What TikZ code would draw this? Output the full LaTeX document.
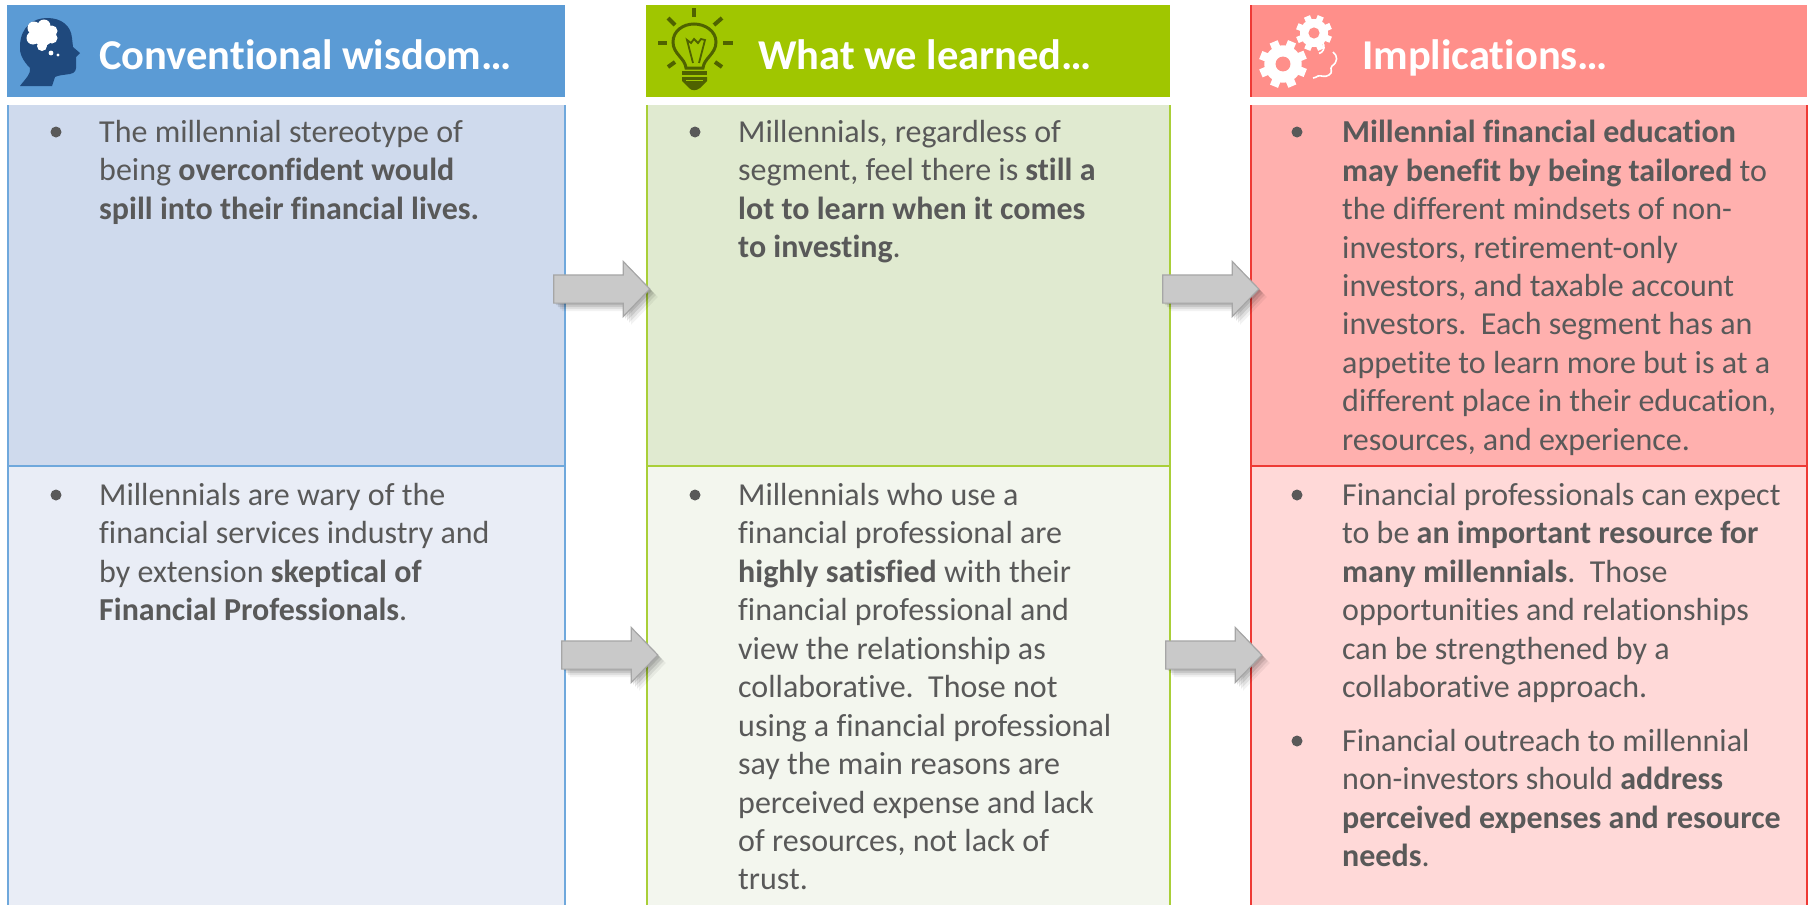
\documentclass[tikz,border=0pt]{standalone}
\usepackage{fontspec}
\setmainfont[Ligatures=NoCommon]{Carlito}
\usetikzlibrary{shapes.arrows,shadows}
\definecolor{bluehead}{HTML}{5B9BD5}
\definecolor{blueone}{HTML}{CFDAED}
\definecolor{bluetwo}{HTML}{E9EDF6}
\definecolor{blueline}{HTML}{6FA8DC}
\definecolor{greenhead}{HTML}{A0C600}
\definecolor{greenone}{HTML}{E0EAD0}
\definecolor{greentwo}{HTML}{F3F6EE}
\definecolor{greenline}{HTML}{A9CF38}
\definecolor{redhead}{HTML}{FF8F8A}
\definecolor{redone}{HTML}{FFB0AE}
\definecolor{redtwo}{HTML}{FFD9D8}
\definecolor{redline}{HTML}{EE3A35}
\definecolor{bodytext}{HTML}{595959}
\definecolor{headicon}{HTML}{1F497D}
\definecolor{bulbicon}{HTML}{4F6200}
\tikzset{
  headtext/.style={anchor=base west,inner sep=0pt,text=white,font=\fontsize{42.5}{50}\selectfont\bfseries},
  bodynote/.style={anchor=north west,inner sep=0pt,align=left,text=bodytext,font=\fontsize{32}{38.45}\selectfont},
  bulletdot/.style={circle,fill=bodytext,inner sep=0pt,minimum size=11pt},
  panelline/.style={line width=1.3pt},
  flowarrow/.style={single arrow,draw=black!35,fill=black!21,line width=1.2pt,anchor=center,
    minimum height=96pt,minimum width=54pt,text height=27pt,text depth=0pt,inner sep=0pt,
    single arrow tip angle=92,single arrow head extend=13.5pt,
    general shadow={shadow xshift=2pt,shadow yshift=-2pt,fill=black,opacity=.1},
    general shadow={shadow xshift=4pt,shadow yshift=-4pt,fill=black,opacity=.1},
    general shadow={shadow xshift=6pt,shadow yshift=-6pt,fill=black,opacity=.08},
    general shadow={shadow xshift=8pt,shadow yshift=-8pt,fill=black,opacity=.05}},
}
\newcommand{\gearicon}[4]{%
  \fill[white] (#1,#2) circle (#3*0.78);
  \foreach \ang in {0,45,...,315}
    \draw[white,line width=#3*0.36pt] (#1,#2) ++(\ang+22:#3*0.7) -- ++(\ang+22:#3*0.3);
  \fill[#4] (#1,#2) circle (#3*0.31);
}
\begin{document}
\begin{tikzpicture}[x=1pt,y=-1pt]
  \useasboundingbox (0,0) rectangle (1814,905);
  % column one
  \fill[bluehead] (7,5) rectangle (565,97);
  \fill[blueone] (8,105) rectangle (565,466);
  \fill[bluetwo] (8,466) rectangle (565,905);
  \draw[panelline,blueline] (8,105) -- (8,905) (565,105) -- (565,905) (8,466) -- (565,466);
  % column two
  \fill[greenhead] (646,5) rectangle (1170,97);
  \fill[greenone] (647,105) rectangle (1170,466);
  \fill[greentwo] (647,466) rectangle (1170,905);
  \draw[panelline,greenline] (647,105) -- (647,905) (1170,105) -- (1170,905) (647,466) -- (1170,466);
  % column three
  \fill[redhead] (1250,5) rectangle (1807,97);
  \fill[redone] (1251,105) rectangle (1807,466);
  \fill[redtwo] (1251,466) rectangle (1807,905);
  \draw[panelline,redline] (1251,5) -- (1251,97) (1251,105) -- (1251,905) (1807,105) -- (1807,905) (1251,466) -- (1807,466);

  % head
  \fill[headicon] (20,86) .. controls (26,78) and (31,74) .. (30,68)
    .. controls (22,60) and (19,52) .. (20,45) .. controls (21,26) and (34,18) .. (47,18)
    .. controls (62,18) and (71,26) .. (72,38) -- (73,47) -- (80,53) -- (76,57) -- (76,63)
    .. controls (77,70) and (75,73) .. (70,74) .. controls (64,75) and (59,75) .. (55,77) -- (52,86) -- cycle;
  \fill[white] (34,28) circle (6.5) (44,26) circle (6.5) (52,31) circle (5.5) (33,38) circle (6.5)
    (43,36) circle (10) (52,38) circle (5.5) (42,46) circle (5);
  \fill[white] (51,53) circle (2.4) (58,55) circle (1.6);

  % bulb
  \begin{scope}[bulbicon,line width=3pt]
    \draw (686,68) .. controls (685,58) and (673,54) .. (673,42)
      .. controls (673,31) and (683,24) .. (694,24)
      .. controls (705,24) and (716,31) .. (716,42)
      .. controls (716,54) and (704,58) .. (703,68) -- cycle;
    \draw[line width=1.8pt] (693,63) -- (687,40) -- (691,43) -- (694,39) -- (698,43) -- (701,39) -- (705,40) -- (699,63);
    \draw[line width=4pt] (694,8) -- (694,17);
    \draw[line width=4pt] (658,43) -- (667,43);
    \draw[line width=4pt] (723,43) -- (733,43);
    \draw[line width=4pt] (668,18) -- (675,25);
    \draw[line width=4pt] (722,18) -- (714,25);
    \draw[line width=4pt] (668,67) -- (675,62);
    \draw[line width=4pt] (722,67) -- (715,62);
    \draw[line width=4pt] (682,73) -- (707,73);
    \fill (682,77) -- (707,77) -- (707,81) -- (700,88) .. controls (696,91) and (692,91) .. (689,88) -- (682,81) -- cycle;
    \draw[greenhead,line width=1.4pt] (686,80.5) -- (703,80.5);
  \end{scope}

  % gears
  \gearicon{1283}{64}{24}{redhead}
  \gearicon{1314}{33}{18}{redhead}
  \draw[white,line width=1.6pt] (1319,53.5) arc (75:-145:6.8);
  \draw[white,line width=1.6pt] (1333,52) .. controls (1338,56) and (1338,62) .. (1332,66)
    .. controls (1329,69) and (1334,72) .. (1329,75) .. controls (1325,78) and (1321,75) .. (1318,76)
    .. controls (1316,77) and (1315,78) .. (1313,78);

  \node[headtext] (wisdomhead) at (99,69) {Conventional wisdom…};
  \node[headtext] (learnedhead) at (758,69) {What we learned…};
  \node[headtext] (implhead) at (1362,69) {Implications…};

  \node[bulletdot] (dota) at (56,132) {};
  \node[bodynote] (notea) at (99,120) {The millennial stereotype of\\being \textbf{overconfident would}\\\textbf{spill into their financial lives.}};
  \node[bulletdot] (dotb) at (56,495) {};
  \node[bodynote] (noteb) at (99,483) {Millennials are wary of the\\financial services industry and\\by extension \textbf{skeptical of}\\\textbf{Financial Professionals}.};

  \node[bulletdot] (dotc) at (695,132) {};
  \node[bodynote] (notec) at (738,120) {Millennials, regardless of\\segment, feel there is \textbf{still a}\\\textbf{lot to learn when it comes}\\\textbf{to investing}.};
  \node[bulletdot] (dotd) at (695,495) {};
  \node[bodynote] (noted) at (738,483) {Millennials who use a\\financial professional are\\\textbf{highly satisfied} with their\\financial professional and\\view the relationship as\\collaborative.\ \ Those not\\using a financial professional\\say the main reasons are\\perceived expense and lack\\of resources, not lack of\\trust.};

  \node[bulletdot] (dote) at (1297,132) {};
  \node[bodynote] (notee) at (1342,120) {\textbf{Millennial financial education}\\\textbf{may benefit by being tailored} to\\the different mindsets of non-\\investors, retirement-only\\investors, and taxable account\\investors.\ \ Each segment has an\\appetite to learn more but is at a\\different place in their education,\\resources, and experience.};
  \node[bulletdot] (dotf) at (1297,495) {};
  \node[bodynote] (notef) at (1342,483) {Financial professionals can expect\\to be \textbf{an important resource for}\\\textbf{many millennials}.\ \ Those\\opportunities and relationships\\can be strengthened by a\\collaborative approach.};
  \node[bulletdot] (dotg) at (1297,741) {};
  \node[bodynote] (noteg) at (1342,729) {Financial outreach to millennial\\non-investors should \textbf{address}\\\textbf{perceived expenses and resource}\\\textbf{needs}.};

  \node[flowarrow] (arrowa) at (595,289) {};
  \node[flowarrow] (arrowb) at (603,655) {};
  \node[flowarrow] (arrowc) at (1204,289) {};
  \node[flowarrow] (arrowd) at (1207,655) {};
\end{tikzpicture}
\end{document}
